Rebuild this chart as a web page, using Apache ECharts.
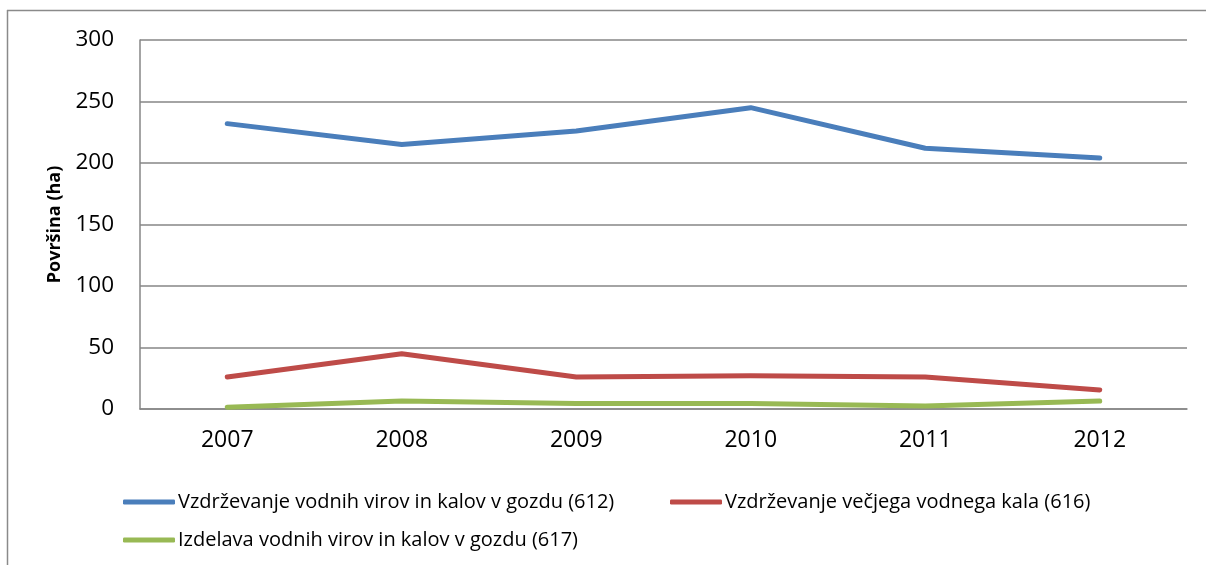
<!DOCTYPE html>
<html>
<head>
<meta charset="utf-8">
<script src="https://cdn.jsdelivr.net/npm/echarts@6/dist/echarts.min.js"></script>
<style>
  html, body { margin: 0; padding: 0; background: #fff; }
  #chart { width: 1206px; height: 565px; }
</style>
</head>
<body>
<div id="chart"></div>
<script>
const years = ['2007', '2008', '2009', '2010', '2011', '2012']
const vzdrzevanjeViri = [232, 215, 226, 245, 212, 204]
const vzdrzevanjeKal = [26, 45, 26, 27, 26, 15.5]
const izdelavaViri = [1.5, 6.5, 4.5, 4.5, 2.5, 6.5]
const yTicks = [0, 50, 100, 150, 200, 250, 300]

const names = [
  'Vzdrževanje vodnih virov in kalov v gozdu (612)',
  'Vzdrževanje večjega vodnega kala (616)',
  'Izdelava vodnih virov in kalov v gozdu (617)'
]
const colors = ['#4a7ebb', '#be4b48', '#98b954']
const font = 'Open Sans'

const chart = echarts.init(document.getElementById('chart'))

// one legend per item so each can sit where it does in the original
function legendAt(name, left, top) {
  return {
    data: [name],
    left: left,
    top: top,
    itemWidth: 52,
    itemHeight: 5,
    icon: 'roundRect',
    textStyle: { fontFamily: font, fontSize: 20, color: '#000', padding: [0, 0, 0, -2] }
  }
}

chart.setOption({
  animation: false,
  textStyle: { fontFamily: font },
  graphic: [
    { type: 'line', shape: { x1: 7, y1: 10.5, x2: 1206, y2: 10.5 }, style: { stroke: '#8a8a8a', lineWidth: 1.5 } },
    { type: 'line', shape: { x1: 7.5, y1: 10, x2: 7.5, y2: 565 }, style: { stroke: '#8a8a8a', lineWidth: 1.5 } }
  ],
  grid: { left: 140, right: 19, top: 40, bottom: 156 },
  legend: [
    legendAt(names[0], 118, 487),
    legendAt(names[1], 665, 487),
    legendAt(names[2], 118, 525)
  ],
  xAxis: {
    type: 'category',
    data: years,
    boundaryGap: true,
    axisLine: { lineStyle: { color: '#868686', width: 1.5 } },
    axisTick: { show: false },
    axisLabel: { fontSize: 23, color: '#000', margin: 20, fontFamily: font }
  },
  yAxis: {
    type: 'value',
    min: yTicks[0],
    max: yTicks[yTicks.length - 1],
    interval: 50,
    name: 'Površina (ha)',
    nameLocation: 'middle',
    nameGap: 76,
    nameTextStyle: { fontSize: 18, fontWeight: 'bold', color: '#000', fontFamily: font },
    axisLine: { show: true, lineStyle: { color: '#868686', width: 1.5 } },
    axisTick: { show: false },
    axisLabel: { fontSize: 22.5, color: '#000', margin: 26, fontFamily: font },
    splitLine: { lineStyle: { color: '#868686', width: 1.5 } }
  },
  series: [
    { name: names[0], type: 'line', data: vzdrzevanjeViri },
    { name: names[1], type: 'line', data: vzdrzevanjeKal },
    { name: names[2], type: 'line', data: izdelavaViri }
  ].map((s, i) => Object.assign(s, {
    color: colors[i],
    symbol: 'none',
    lineStyle: { width: 5, color: colors[i], cap: 'round', join: 'round' }
  }))
})
</script>
</body>
</html>
